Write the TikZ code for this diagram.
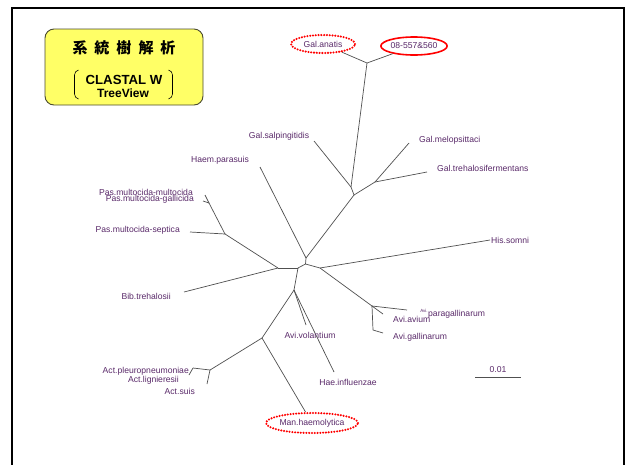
\documentclass[tikz,border=0pt]{standalone}
\usepackage{fontspec}
\setmainfont{Liberation Sans}
\newfontfamily\cjk{Noto Sans CJK JP}
\usetikzlibrary{shapes.geometric}
\definecolor{treegray}{HTML}{505050}
\definecolor{lblcol}{HTML}{5A2A6A}
\definecolor{titleyellow}{HTML}{FFFF66}
\definecolor{titleedge}{HTML}{4A4A30}
\begin{document}
\begin{tikzpicture}[x=1pt,y=-1pt,
  br/.style={draw=treegray, line width=0.7pt},
  lbl/.style={text=lblcol, font=\fontsize{8.6}{10}\selectfont, inner sep=0pt},
  dotell/.style={ellipse, draw=red, line width=2.3pt, dash pattern=on 0pt off 2.8pt, line cap=round, inner sep=0pt, text=lblcol, font=\fontsize{8.6}{10}\selectfont},
  solell/.style={ellipse, draw=red, line width=1.6pt, inner sep=0pt, text=lblcol, font=\fontsize{8.6}{10}\selectfont}
]
\useasboundingbox (0,0) rectangle (628,464);
\fill[white] (0,0) rectangle (628,464);
% frame
\draw[line width=2pt] (12,466) -- (12,8) -- (624,8) -- (624,466);

% title box
\node[draw=titleedge, line width=0.9pt, fill=titleyellow, rounded corners=9pt,
      minimum width=158pt, minimum height=76pt, inner sep=0pt] (title) at (124,67) {};
\node[font=\cjk\bfseries\fontsize{15}{17}\selectfont, inner sep=0pt] (ttl) at (124,48)
  {系\hspace{7pt}統\hspace{7pt}樹\hspace{7pt}解\hspace{7pt}析};
\node[font=\bfseries\fontsize{13.2}{14}\selectfont, inner sep=0pt] (clw) at (124,79.5) {CLASTAL W};
\node[font=\bfseries\fontsize{12}{13}\selectfont, inner sep=0pt] (tv) at (123,93) {TreeView};
\draw[line width=0.6pt] (78.5,70) to[out=195,in=90] (74.5,75) -- (74.5,94) to[out=-90,in=165] (78.5,99);
\draw[line width=0.6pt] (168.5,70) to[out=-15,in=90] (172.5,75) -- (172.5,94) to[out=-90,in=15] (168.5,99);

% internal nodes
\coordinate (A) at (306,258);
\coordinate (B) at (305.5,264);
\coordinate (C) at (320,268);
\coordinate (D) at (298,268);
\coordinate (P0) at (278,268);
\coordinate (P) at (225,234);
\coordinate (P1) at (209,203);
\coordinate (E) at (294,290);
\coordinate (F) at (262,338);
\coordinate (AC) at (210,370);
\coordinate (AC1) at (193,368);
\coordinate (G1) at (354,195);
\coordinate (G2) at (351,187);
\coordinate (M) at (375,182);
\coordinate (GA) at (367,63);
\coordinate (AV) at (372,306);
\coordinate (AV1) at (373,330);

% leaf ends
\coordinate (lHaem) at (260,167);
\coordinate (lSalp) at (314,141);
\coordinate (lMelo) at (409,143);
\coordinate (lTreh) at (427,172);
\coordinate (lHis) at (490,240);
\coordinate (lPmm) at (205,195);
\coordinate (lPmg) at (203,201);
\coordinate (lPms) at (190,232);
\coordinate (lBib) at (184,292);
\coordinate (lApl) at (189,375);
\coordinate (lAsu) at (207,384);
\coordinate (lVol) at (306,325);
\coordinate (lHae) at (334,372);
\coordinate (lApa) at (407,310);
\coordinate (lAav) at (383,314);
\coordinate (lAga) at (383,333);

% labelled ellipses
\node[dotell, minimum width=64pt, minimum height=18pt] (anatis) at (323,44) {Gal.anatis};
\node[solell, minimum width=64pt, minimum height=18pt] (s08) at (414,46) {08-557\&560};
\node[dotell, minimum width=84pt, minimum height=20pt] (man) at (312,423) {Man.haemolytica};

% branches
\draw[br] (A) -- (B);
\draw[br] (B) -- (D);
\draw[br] (B) -- (C);
\draw[br] (A) -- (lHaem);
\draw[br] (A) -- (G1);
\draw[br] (G1) -- (G2);
\draw[br] (G2) -- (lSalp);
\draw[br] (G2) -- (GA);
\draw[br] (GA) -- (anatis);
\draw[br] (GA) -- (s08);
\draw[br] (G1) -- (M);
\draw[br] (M) -- (lMelo);
\draw[br] (M) -- (lTreh);
\draw[br] (C) -- (lHis);
\draw[br] (C) -- (AV);
\draw[br] (AV) -- (lApa);
\draw[br] (AV) -- (lAav);
\draw[br] (AV) -- (AV1);
\draw[br] (AV1) -- (lAga);
\draw[br] (D) -- (P0);
\draw[br] (P0) -- (P);
\draw[br] (P0) -- (lBib);
\draw[br] (P) -- (P1);
\draw[br] (P1) -- (lPmm);
\draw[br] (P1) -- (lPmg);
\draw[br] (P) -- (lPms);
\draw[br] (D) -- (E);
\draw[br] (E) -- (F);
\draw[br] (E) -- (lVol);
\draw[br] (E) -- (lHae);
\draw[br] (F) -- (man);
\draw[br] (F) -- (AC);
\draw[br] (AC) -- (AC1);
\draw[br] (AC1) -- (lApl);
\draw[br] (AC) -- (lAsu);

% labels
\node[lbl] (tHaem) at (220,160) {Haem.parasuis};
\node[lbl] (tSalp) at (279,136) {Gal.salpingitidis};
\node[lbl, anchor=west] (tMelo) at (419,140) {Gal.melopsittaci};
\node[lbl, anchor=west] (tTreh) at (437,168) {Gal.trehalosifermentans};
\node[lbl, anchor=west] (tHis) at (491,240) {His.somni};
\node[lbl, anchor=east] (tPmm) at (193,192.5) {Pas.multocida-multocida};
\node[lbl, anchor=east] (tPmg) at (194,199.5) {Pas.multocida-gallicida};
\node[lbl, anchor=east] (tPms) at (180,230) {Pas.multocida-septica};
\node[lbl, anchor=east] (tBib) at (171,296) {Bib.trehalosii};
\node[lbl, anchor=east] (tApl) at (189,371) {Act.pleuropneumoniae};
\node[lbl, anchor=east] (tAli) at (179,380) {Act.lignieresii};
\node[lbl, anchor=east] (tAsu) at (195,391) {Act.suis};
\node[lbl] (tVol) at (310,335) {Avi.volantium};
\node[lbl] (tHae) at (348,382) {Hae.influenzae};
\node[lbl, anchor=west] (tAav) at (393,319) {Avi.avium};
\node[lbl, font=\fontsize{4.5}{5}\selectfont] (tAvs) at (424,311) {Avi.};
\node[lbl, anchor=west] (tApa) at (428,314) {paragallinarum};
\node[lbl, anchor=west] (tAga) at (393,337) {Avi.gallinarum};

% scale bar
\node[lbl] (tsc) at (498,370) {0.01};
\coordinate (sc1) at (475,377);
\coordinate (sc2) at (521,377);
\draw[br] (sc1) -- (sc2);
\end{tikzpicture}
\end{document}
